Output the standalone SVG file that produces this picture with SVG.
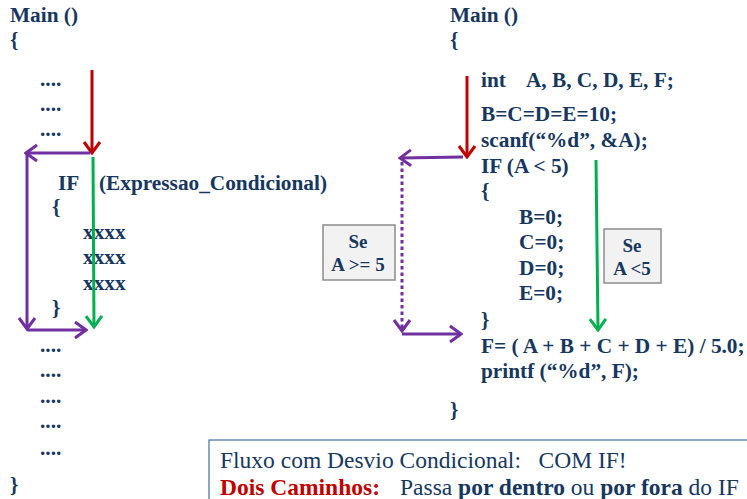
<svg xmlns="http://www.w3.org/2000/svg" width="747" height="499" viewBox="0 0 747 499">
<defs>
<style>
.c{font-family:"Liberation Serif","Times New Roman",serif;font-weight:bold;font-size:21.3px;fill:#17375E}
.n{font-family:"Liberation Serif","Times New Roman",serif;font-size:23.5px;fill:#17375E}
.b{font-weight:bold}
.lbl{font-family:"Liberation Serif","Times New Roman",serif;font-weight:bold;font-size:19px;fill:#17375E;text-anchor:middle}
.box{fill:#F2F2F2;stroke:#8C8C8C;stroke-width:1.5}
.r{stroke:#C00000;stroke-width:3;fill:none}
.p{stroke:#7030A0;stroke-width:3;fill:none}
.g{stroke:#00B050;stroke-width:3;fill:none}
</style>
<marker id="mr" markerUnits="userSpaceOnUse" viewBox="-13 -10 15 20" refX="0" refY="0" markerWidth="15" markerHeight="20" orient="auto"><path d="M-11,-8 L0,0 L-11,8" fill="none" stroke="#C00000" stroke-width="3"/></marker>
<marker id="mp" markerUnits="userSpaceOnUse" viewBox="-13 -10 15 20" refX="0" refY="0" markerWidth="15" markerHeight="20" orient="auto"><path d="M-11,-8 L0,0 L-11,8" fill="none" stroke="#7030A0" stroke-width="3"/></marker>
<marker id="mg" markerUnits="userSpaceOnUse" viewBox="-13 -10 15 20" refX="0" refY="0" markerWidth="15" markerHeight="20" orient="auto"><path d="M-11,-8 L0,0 L-11,8" fill="none" stroke="#00B050" stroke-width="3"/></marker>
</defs>
<rect width="747" height="499" fill="#FFFFFF"/>

<g id="left-code">
<text class="c" x="10" y="22">Main ()</text>
<text class="c" x="10" y="47">{</text>
<text class="c" x="40" y="86">....</text>
<text class="c" x="40" y="111">....</text>
<text class="c" x="40" y="136">....</text>
<text class="c" x="58" y="190">IF</text>
<text class="c" x="99" y="190">(Expressao_Condicional)</text>
<text class="c" x="52" y="214">{</text>
<text class="c" x="83" y="239">xxxx</text>
<text class="c" x="83" y="264">xxxx</text>
<text class="c" x="83" y="290">xxxx</text>
<text class="c" x="52" y="315">}</text>
<text class="c" x="40" y="352">....</text>
<text class="c" x="40" y="377">....</text>
<text class="c" x="40" y="403">....</text>
<text class="c" x="40" y="428">....</text>
<text class="c" x="40" y="455">....</text>
<text class="c" x="10" y="492">}</text>
</g>

<g id="right-code">
<text class="c" x="450" y="22">Main ()</text>
<text class="c" x="450" y="47">{</text>
<text class="c" x="481" y="87" xml:space="preserve">int    A, B, C, D, E, F;</text>
<text class="c" x="481" y="121">B=C=D=E=10;</text>
<text class="c" x="481" y="147">scanf(“%d”, &amp;A);</text>
<text class="c" x="481" y="173">IF (A &lt; 5)</text>
<text class="c" x="481" y="198">{</text>
<text class="c" x="519" y="224">B=0;</text>
<text class="c" x="519" y="249">C=0;</text>
<text class="c" x="519" y="275">D=0;</text>
<text class="c" x="519" y="300">E=0;</text>
<text class="c" x="481" y="327">}</text>
<text class="c" x="481" y="353">F= ( A + B + C + D + E) / 5.0;</text>
<text class="c" x="481" y="378">printf (“%d”, F);</text>
<text class="c" x="450" y="417">}</text>
</g>

<g id="label-ge5">
<rect class="box" x="323" y="225" width="72" height="55"/>
<text class="lbl" x="358" y="248">Se</text>
<text class="lbl" x="358" y="271">A &gt;= 5</text>
</g>

<g id="label-lt5">
<rect class="box" x="604" y="229" width="57" height="54"/>
<text class="lbl" x="632" y="252">Se</text>
<text class="lbl" x="632" y="275">A &lt;5</text>
</g>

<g id="note">
<rect x="209" y="440" width="560" height="70" fill="#FFFFFF" stroke="#41719C" stroke-width="1.2"/>
<text class="n" x="220" y="468" xml:space="preserve">Fluxo com Desvio Condicional:   COM IF!</text>
<text class="n" x="220" y="495"><tspan class="b" fill="#C00000">Dois Caminhos:</tspan><tspan x="400">Passa </tspan><tspan class="b">por dentro</tspan> ou <tspan class="b">por fora</tspan> do IF</text>
</g>

<g id="connectors">
<line class="r" x1="92" y1="70" x2="92" y2="153" marker-end="url(#mr)"/>
<line class="p" x1="90" y1="153" x2="26" y2="153" marker-end="url(#mp)"/>
<line class="p" x1="27" y1="154" x2="27" y2="329" marker-end="url(#mp)"/>
<line class="p" x1="27" y1="330" x2="86" y2="330" marker-end="url(#mp)"/>
<line class="g" x1="93" y1="157" x2="94" y2="327" marker-end="url(#mg)"/>

<line class="r" x1="467" y1="76" x2="467" y2="157" marker-end="url(#mr)"/>
<line class="p" x1="463" y1="157" x2="400" y2="158" marker-end="url(#mp)"/>
<line class="p" x1="402" y1="162" x2="402" y2="331" stroke-width="3.5" stroke-dasharray="3.5,3" marker-end="url(#mp)"/>
<line class="p" x1="402" y1="334" x2="461" y2="334" marker-end="url(#mp)"/>
<line class="g" x1="596" y1="160" x2="598" y2="330" marker-end="url(#mg)"/>
</g>
</svg>
